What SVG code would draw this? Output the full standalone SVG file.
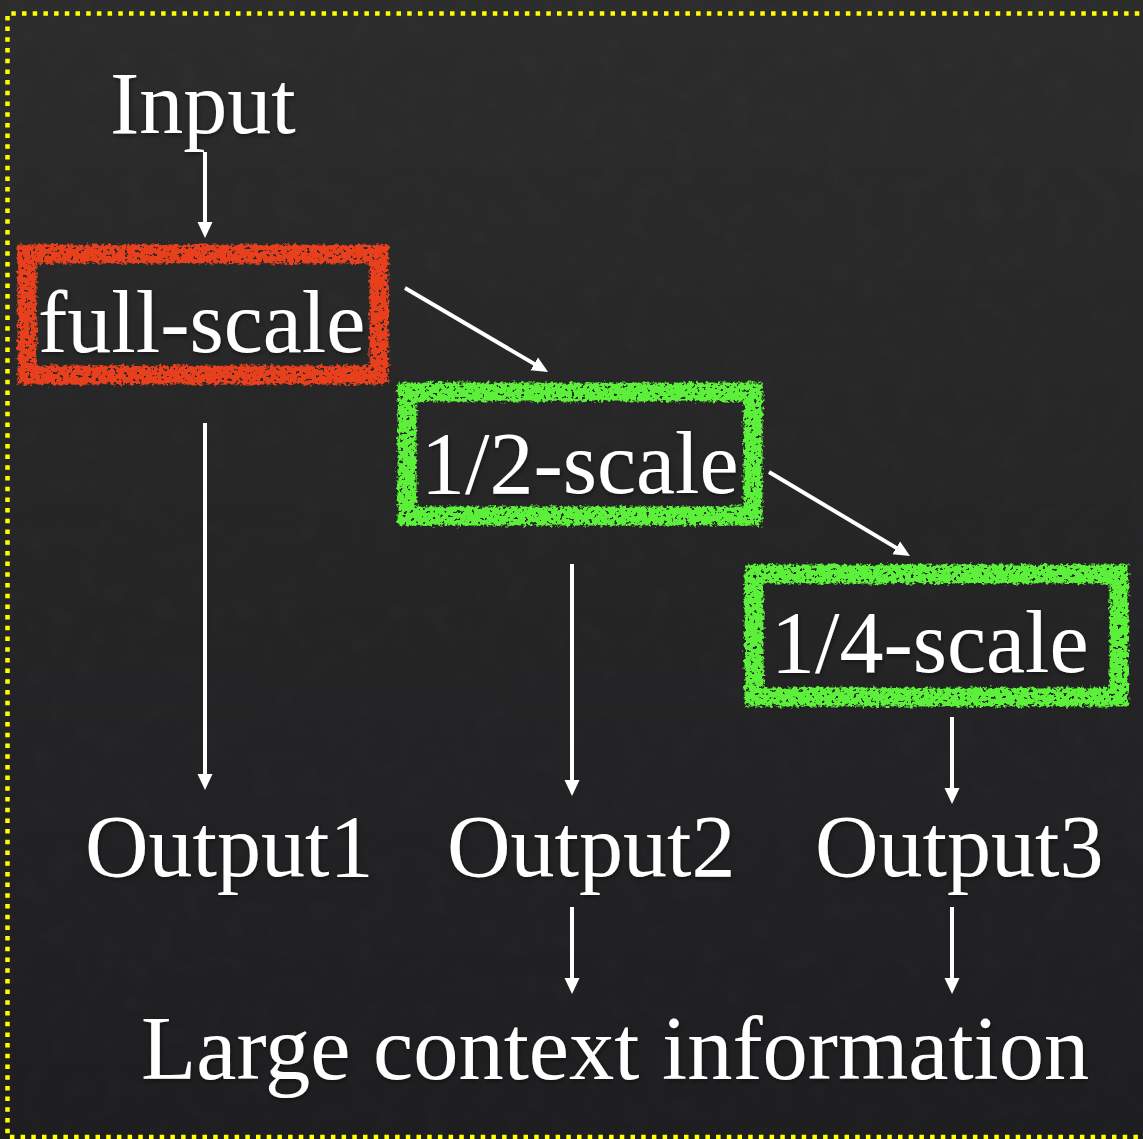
<svg xmlns="http://www.w3.org/2000/svg" width="1143" height="1139" viewBox="0 0 1143 1139">
  <defs>
    <linearGradient id="bg" x1="0" y1="0" x2="0" y2="1">
      <stop offset="0" stop-color="#2c2c2d"/>
      <stop offset="1" stop-color="#1e1e20"/>
    </linearGradient>
    <!-- faint slate grain over the whole board -->
    <filter id="grain" x="0" y="0" width="100%" height="100%">
      <feTurbulence type="fractalNoise" baseFrequency="0.04" numOctaves="3" seed="7"/>
      <feColorMatrix type="matrix" values="0 0 0 0 1  0 0 0 0 1  0 0 0 0 1  0.6 0 0 0 -0.25"/>
    </filter>
    <!-- chalky, ragged stroke for the scale boxes -->
    <filter id="chalk" x="-8%" y="-15%" width="116%" height="130%">
      <feTurbulence type="fractalNoise" baseFrequency="0.3" numOctaves="2" seed="3" result="n"/>
      <feDisplacementMap in="SourceGraphic" in2="n" scale="7" xChannelSelector="R" yChannelSelector="G" result="d"/>
      <feTurbulence type="fractalNoise" baseFrequency="0.28" numOctaves="2" seed="11" result="s"/>
      <feColorMatrix in="s" type="matrix" values="0 0 0 0 0  0 0 0 0 0  0 0 0 0 0  12 0 0 0 -7.6" result="holes"/>
      <feComposite in="d" in2="holes" operator="out"/>
    </filter>
    <filter id="shadow" x="-10%" y="-20%" width="120%" height="140%">
      <feDropShadow dx="1" dy="2" stdDeviation="2" flood-color="#000" flood-opacity="0.45"/>
    </filter>
    <marker id="head" markerUnits="userSpaceOnUse" markerWidth="16" markerHeight="16" refX="4" refY="8" orient="auto">
      <path d="M0,0.5 L16,8 L0,15.5 z" fill="#ffffff"/>
    </marker>
    <style>
      .lbl { font-family: "Liberation Serif", "Times New Roman", serif; font-size: 88px; fill: #ffffff; }
      .big { font-size: 90.5px; }
      .box { fill: none; stroke-width: 19; }
      .red { stroke: #e8401f; }
      .green { stroke: #5df03a; }
      .edge { stroke: #ffffff; stroke-width: 4; fill: none; marker-end: url(#head); }
    </style>
  </defs>

  <!-- board -->
  <rect width="1143" height="1139" fill="url(#bg)"/>
  <rect width="1143" height="1139" filter="url(#grain)" opacity="0.05"/>

  <!-- dotted frame -->
  <path d="M1150,13.5 H7.5 V1137 H1150" fill="none" stroke="#ffff00" stroke-width="4.5" stroke-dasharray="4.5 6.2"/>

  <!-- nodes -->
  <g id="input">
    <text class="lbl" x="110" y="133" filter="url(#shadow)">Input</text>
  </g>

  <g id="full-scale">
    <rect class="box red" x="27" y="254" width="352" height="121" filter="url(#chalk)"/>
    <text class="lbl" x="38" y="352" filter="url(#shadow)">full-scale</text>
  </g>

  <g id="half-scale">
    <rect class="box green" x="407" y="392" width="346" height="124" filter="url(#chalk)"/>
    <text class="lbl" x="421" y="493" filter="url(#shadow)">1/2-scale</text>
  </g>

  <g id="quarter-scale">
    <rect class="box green" x="754" y="574" width="365" height="123" filter="url(#chalk)"/>
    <text class="lbl" x="771" y="672" filter="url(#shadow)">1/4-scale</text>
  </g>

  <g id="output1">
    <text class="lbl" x="85" y="876" filter="url(#shadow)">Output1</text>
  </g>
  <g id="output2">
    <text class="lbl" x="447" y="876" filter="url(#shadow)">Output2</text>
  </g>
  <g id="output3">
    <text class="lbl" x="815" y="876" filter="url(#shadow)">Output3</text>
  </g>

  <g id="context">
    <text class="lbl big" x="141" y="1079" filter="url(#shadow)">Large context information</text>
  </g>

  <!-- connectors -->
  <g id="connectors">
    <line class="edge" x1="205" y1="152" x2="205" y2="226"/>
    <line class="edge" x1="405" y1="288" x2="537.7" y2="365.9"/>
    <line class="edge" x1="769" y1="472" x2="899.7" y2="549.9"/>
    <line class="edge" x1="205" y1="423" x2="205" y2="778"/>
    <line class="edge" x1="572" y1="564" x2="572" y2="784"/>
    <line class="edge" x1="952" y1="717" x2="952" y2="792"/>
    <line class="edge" x1="572" y1="907" x2="572" y2="982"/>
    <line class="edge" x1="952" y1="907" x2="952" y2="982"/>
  </g>
</svg>
